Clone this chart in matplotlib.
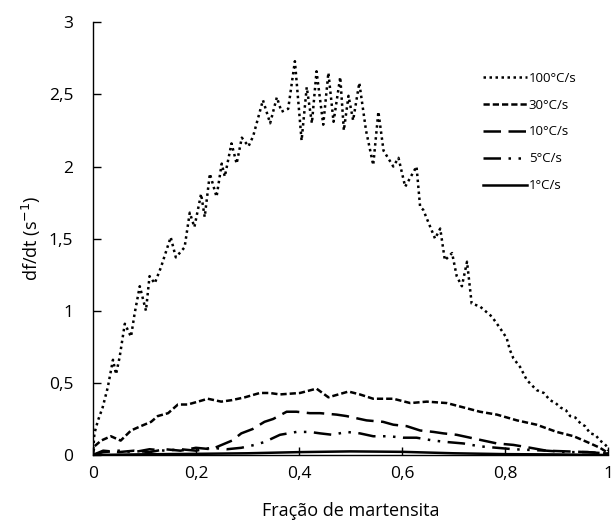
import matplotlib
matplotlib.use("Agg")
import matplotlib.pyplot as plt
from matplotlib.ticker import FuncFormatter

# fração de martensita / df/dt for each cooling rate
f_100 = [0, 0.003, 0.010, 0.019, 0.029, 0.039, 0.045, 0.052, 0.062, 0.074, 0.081, 0.091,
         0.103, 0.110, 0.120, 0.132, 0.151, 0.161, 0.178, 0.188, 0.197, 0.210, 0.217,
         0.227, 0.240, 0.250, 0.256, 0.269, 0.279, 0.289, 0.302, 0.311, 0.330, 0.344,
         0.357, 0.366, 0.379, 0.392, 0.405, 0.415, 0.425, 0.434, 0.447, 0.457, 0.467,
         0.480, 0.487, 0.496, 0.505, 0.517, 0.530, 0.544, 0.554, 0.564, 0.583, 0.593,
         0.606, 0.628, 0.635, 0.641, 0.664, 0.674, 0.683, 0.697, 0.706, 0.716, 0.726,
         0.735, 0.751, 0.774, 0.790, 0.803, 0.809, 0.816, 0.829, 0.842, 0.861, 0.875,
         0.887, 0.898, 0.907, 0.918, 0.926, 0.936, 0.946, 0.955, 0.965, 0.975, 0.984,
         0.992, 0.997, 1.0]
v_100 = [0, 0.15, 0.24, 0.33, 0.47, 0.66, 0.56, 0.68, 0.91, 0.82, 0.98, 1.17,
         1.00, 1.24, 1.19, 1.30, 1.51, 1.37, 1.44, 1.68, 1.58, 1.81, 1.65,
         1.95, 1.79, 2.02, 1.93, 2.16, 2.02, 2.20, 2.14, 2.21, 2.46, 2.30,
         2.48, 2.38, 2.40, 2.73, 2.18, 2.55, 2.30, 2.66, 2.29, 2.65, 2.31,
         2.62, 2.25, 2.49, 2.32, 2.58, 2.25, 2.01, 2.38, 2.11, 2.00, 2.06,
         1.86, 2.00, 1.72, 1.70, 1.50, 1.57, 1.35, 1.40, 1.24, 1.17, 1.34,
         1.05, 1.03, 0.96, 0.88, 0.81, 0.73, 0.67, 0.61, 0.52, 0.45, 0.43,
         0.38, 0.36, 0.33, 0.31, 0.27, 0.26, 0.22, 0.20, 0.15, 0.14, 0.10,
         0.08, 0.06, 0.03]

f_30 = [0, 0.003, 0.016, 0.035, 0.054, 0.074, 0.093, 0.113, 0.126, 0.146, 0.165, 0.184,
        0.204, 0.223, 0.249, 0.269, 0.295, 0.324, 0.343, 0.363, 0.402, 0.434, 0.457,
        0.496, 0.518, 0.544, 0.583, 0.616, 0.648, 0.687, 0.719, 0.751, 0.784, 0.823,
        0.861, 0.900, 0.933, 0.959, 0.984, 0.997]
v_30 = [0, 0.06, 0.10, 0.13, 0.10, 0.17, 0.20, 0.23, 0.27, 0.29, 0.35, 0.35,
        0.37, 0.39, 0.37, 0.38, 0.40, 0.43, 0.43, 0.42, 0.43, 0.46, 0.40,
        0.44, 0.42, 0.39, 0.39, 0.36, 0.37, 0.36, 0.33, 0.30, 0.28, 0.24,
        0.21, 0.16, 0.13, 0.09, 0.05, 0.02]

f_10 = [0, 0.02, 0.05, 0.08, 0.11, 0.14, 0.17, 0.20, 0.23, 0.25, 0.27, 0.288, 0.31,
        0.333, 0.350, 0.376, 0.395, 0.421, 0.441, 0.473, 0.492, 0.518, 0.531, 0.563,
        0.583, 0.609, 0.635, 0.661, 0.680, 0.706, 0.732, 0.758, 0.784, 0.816, 0.849,
        0.88, 0.92, 0.96, 1.0]
v_10 = [0, 0.03, 0.02, 0.03, 0.02, 0.04, 0.03, 0.05, 0.04, 0.07, 0.10, 0.15, 0.18,
        0.23, 0.25, 0.30, 0.30, 0.29, 0.29, 0.28, 0.27, 0.25, 0.24, 0.23,
        0.21, 0.20, 0.17, 0.16, 0.15, 0.14, 0.12, 0.10, 0.08, 0.07, 0.05,
        0.03, 0.025, 0.02, 0.01]

f_5 = [0, 0.02, 0.05, 0.08, 0.11, 0.14, 0.17, 0.20, 0.23, 0.26, 0.288, 0.314, 0.333,
       0.363, 0.395, 0.421, 0.441, 0.465, 0.492, 0.518, 0.544, 0.575, 0.602, 0.628,
       0.661, 0.687, 0.719, 0.751, 0.784, 0.816, 0.849, 0.88, 0.92, 0.96, 1.0]
v_5 = [0, 0.02, 0.03, 0.02, 0.04, 0.03, 0.04, 0.03, 0.05, 0.04, 0.05, 0.07, 0.09,
       0.14, 0.16, 0.16, 0.15, 0.14, 0.16, 0.15, 0.13, 0.13, 0.12, 0.12,
       0.10, 0.09, 0.08, 0.06, 0.05, 0.04, 0.035, 0.03, 0.02, 0.02, 0.01]

f_1 = [0, 0.1, 0.2, 0.3, 0.4, 0.5, 0.6, 0.7, 0.8, 0.9, 1.0]
v_1 = [0, 0.005, 0.008, 0.012, 0.02, 0.025, 0.022, 0.012, 0.006, 0.004, 0]

labels = ["100°C/s", "30°C/s", "10°C/s", "5°C/s", "1°C/s"]

plt.rcParams["font.family"] = ["Open Sans", "DejaVu Sans"]

fig = plt.figure(figsize=(6.15, 5.3), dpi=100)
ax = fig.add_axes([0.151, 0.1415, 0.838, 0.8165])

ax.plot(f_100, v_100, color="black", lw=1.8, ls=(0, (1, 1.4)), label=labels[0])
ax.plot(f_30, v_30, color="black", lw=1.8, ls=(0, (2.5, 1.2)), label=labels[1])
ax.plot(f_10, v_10, color="black", lw=1.8, ls=(0, (7, 3)), label=labels[2])
ax.plot(f_5, v_5, color="black", lw=1.8, ls=(0, (7, 3, 1, 3, 1, 3)), label=labels[3])
ax.plot(f_1, v_1, color="black", lw=1.8, ls="-", label=labels[4])

ax.set_xlim(0, 1)
ax.set_ylim(0, 3)
ax.set_xticks([0, 0.2, 0.4, 0.6, 0.8, 1])
ax.set_yticks([0, 0.5, 1, 1.5, 2, 2.5, 3])
comma = FuncFormatter(lambda v, p: ("%g" % v).replace(".", ","))
ax.xaxis.set_major_formatter(comma)
ax.yaxis.set_major_formatter(comma)
ax.tick_params(direction="in", length=6, width=1, labelsize=12.5, pad=8)
ax.tick_params(axis="y", pad=14)
for s in ["top", "right"]:
    ax.spines[s].set_visible(False)
for s in ["left", "bottom"]:
    ax.spines[s].set_linewidth(1)

ax.set_xlabel("Fração de martensita", fontsize=13, labelpad=14)
ax.set_ylabel("df/dt (s$^{-1}$)", fontsize=13, labelpad=4)

fig.legend(loc="upper left", bbox_to_anchor=(0.775, 0.877), frameon=False,
           fontsize=9.5, handlelength=3.3, handletextpad=0.15, labelspacing=1.05,
           borderpad=0)

fig.savefig("out.png", dpi=100)
